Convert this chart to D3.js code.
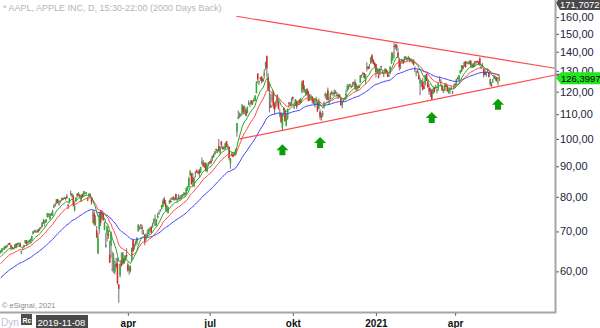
<!DOCTYPE html>
<html>
<head>
<meta charset="utf-8">
<script src="https://cdn.jsdelivr.net/npm/d3@7"></script>
<style>
  html, body { margin: 0; padding: 0; background: #fff; }
  svg { display: block; }
  text { font-family: "Liberation Sans", Arial, sans-serif; }
</style>
</head>
<body>
<svg id="chart" width="600" height="328"></svg>
<script>
// ---------------------------------------------------------------------------
// AAPL daily candles (split-adjusted), 2019-11-08 .. 2021-05-20
// ---------------------------------------------------------------------------
const title = "* AAPL, APPLE INC, D, 15:30-22:00 (2000 Days Back)";
const firstDateLabel = "2019-11-08";

// closes before the first drawn bar (Sep 3 .. Nov 7 2019), used to prime the averages
const warmupCloses = [
  51.43, 52.30, 53.32, 53.32, 53.54, 54.18, 55.90, 55.77, 54.69, 54.98, 55.18, 55.69, 55.24, 54.43, 54.68, 54.42, 55.26, 54.97, 54.71, 55.99,
  56.15, 54.74, 55.21, 56.75, 56.77, 56.10, 56.76, 57.52, 59.05, 58.97, 58.83, 58.59, 58.82, 59.10, 60.13, 59.99, 60.80, 60.90, 61.65, 62.26, 60.82, 60.82, 62.19,
  63.96, 64.38, 64.28, 64.31, 64.86
];

const months = ["2019-11","2019-12","2020-01","2020-02","2020-03","2020-04","2020-05","2020-06","2020-07","2020-08",
                "2020-09","2020-10","2020-11","2020-12","2021-01","2021-02","2021-03","2021-04","2021-05"];

const opens = [
  [64.67,64.58,65.39,65.28,65.94,65.92,66.45,66.97,66.38,65.92,65.65,65.68,66.74,66.39,66.67],
  [66.82,64.58,65.27,65.95,66.87,67.50,67.15,67.20,66.95,67.86,69.25,69.89,69.95,69.88,70.56,70.13,71.17,71.21,72.78,72.36,72.48],
  [74.06,74.29,73.45,74.96,74.29,76.81,77.65,77.91,79.18,77.96,78.40,79.07,79.30,79.64,79.48,80.06,77.51,78.15,81.11,80.14,80.23],
  [76.07,78.83,80.88,80.64,80.59,78.54,80.90,80.37,81.05,81.18,78.84,80.00,80.66,79.65,74.32,75.24,71.63,70.28,64.32],
  [70.57,75.92,74.11,74.95,70.50,65.94,69.29,69.35,63.99,66.22,60.49,61.88,59.94,61.85,61.79,57.02,59.09,62.69,61.63,63.19,62.69,63.90],
  [61.63,60.09,60.70,62.72,67.70,65.68,67.18,67.08,70.00,70.60,71.85,71.17,69.49,69.07,68.40,68.97,69.30,70.45,71.27,71.18,72.49],
  [71.56,72.29,73.76,75.11,75.81,76.41,77.03,79.46,78.04,76.13,75.09,78.29,78.76,79.17,79.67,78.94,80.88,79.04,79.19,79.66],
  [79.44,80.19,81.17,81.10,80.84,82.56,83.04,86.97,87.33,86.18,83.31,87.87,88.66,88.00,88.66,87.84,91.00,91.25,90.18,91.10,88.31,90.02],
  [91.28,91.96,92.50,93.85,94.18,96.26,95.34,97.27,94.84,98.99,96.56,96.99,96.42,99.17,96.69,97.00,90.99,93.71,94.37,93.75,94.19,102.88],
  [108.20,109.13,109.38,110.41,113.21,112.60,111.97,110.50,114.43,114.83,116.06,114.35,115.98,115.75,119.26,128.70,124.70,126.18,127.14,126.01,127.58],
  [132.76,137.59,126.91,120.07,113.95,117.26,120.36,114.57,114.72,118.33,115.23,109.72,110.40,104.54,112.68,111.62,105.17,108.43,115.01,114.55,113.79],
  [117.64,112.89,113.91,115.70,114.62,116.25,115.28,120.06,125.27,121.00,118.72,121.28,119.96,116.20,116.67,117.45,116.39,114.01,115.49,115.05,112.37,111.06],
  [109.11,109.66,114.14,117.95,118.32,120.50,115.55,117.19,119.62,119.44,118.92,119.55,118.61,117.59,118.64,117.18,113.91,115.55,116.57,116.97],
  [121.01,122.02,123.52,122.60,122.31,124.37,124.53,120.50,122.43,122.60,124.34,127.41,128.90,128.96,125.02,131.61,132.16,131.32,133.99,138.05,135.58,134.08],
  [133.52,128.89,127.72,128.36,132.43,129.19,128.50,128.76,130.80,128.78,127.78,128.66,133.80,136.28,143.07,143.60,143.43,139.52,135.83],
  [133.75,135.73,135.76,136.30,137.35,136.03,136.62,136.48,135.90,134.35,135.49,131.25,129.20,130.24,128.01,123.76,124.94,124.68,122.59],
  [123.75,128.41,124.81,121.75,120.98,120.93,119.03,121.69,122.54,120.40,121.41,125.70,124.05,122.88,119.90,120.33,123.33,122.82,119.54,120.35,121.65,120.11,121.65],
  [123.66,123.87,126.50,125.83,128.95,129.80,132.52,132.44,134.94,133.82,134.30,133.51,135.02,132.36,133.04,132.16,134.83,135.01,134.31,136.47,131.78],
  [132.04,131.19,129.20,127.89,130.85,129.41,123.50,123.40,124.58,126.25,126.82,126.56,124.28,125.00]
];

const highs = [
  [65.11,65.62,65.70,66.19,66.22,66.44,66.86,67.00,66.52,66.00,65.80,66.61,66.79,67.00,67.06],
  [67.06,64.88,65.83,66.47,67.75,67.70,67.52,67.78,68.14,68.83,70.20,70.44,70.48,70.29,70.66,71.06,71.22,72.50,73.49,73.17,73.42],
  [75.15,75.14,74.99,75.22,76.11,77.61,78.17,79.27,79.39,78.88,78.93,79.68,79.75,80.00,79.89,80.83,77.94,79.60,81.96,81.02,80.67],
  [78.37,79.91,81.19,81.31,80.85,80.39,80.97,81.81,81.55,81.50,79.94,81.14,81.16,79.94,76.04,75.63,74.47,71.50,69.60],
  [75.36,76.00,75.85,74.89,72.71,69.52,71.61,70.31,67.50,69.98,64.77,64.40,62.50,63.21,63.21,57.13,61.92,64.56,64.67,63.97,63.88,65.62],
  [62.18,61.29,61.43,65.78,67.93,66.84,67.52,68.43,72.06,71.58,72.05,71.74,70.42,69.31,69.48,70.44,70.75,71.14,71.46,72.42,73.63],
  [74.75,73.42,75.25,75.81,76.29,77.59,79.26,79.92,78.99,77.45,76.97,79.13,79.63,79.88,80.22,79.81,81.06,79.68,80.86,80.29],
  [80.59,80.86,81.31,81.41,82.94,83.40,86.40,88.69,87.76,87.76,86.42,88.30,88.85,88.30,89.14,89.87,93.10,92.20,91.33,91.33,90.54,91.50],
  [91.84,92.62,93.94,94.66,95.38,96.32,95.98,99.96,97.26,99.25,97.41,97.15,98.50,99.25,97.98,97.08,92.97,94.91,94.55,95.23,96.30,106.42],
  [111.64,110.79,110.39,114.41,113.68,113.78,112.48,113.28,116.04,115.00,116.09,116.00,117.16,118.39,124.87,128.79,125.18,126.99,127.49,126.44,131.00],
  [134.80,137.98,128.84,123.70,118.99,119.14,120.50,115.23,115.93,118.83,116.00,112.20,110.88,110.19,112.86,112.11,110.25,112.44,115.32,115.31,117.26],
  [117.72,115.37,116.65,116.12,115.55,116.40,117.00,125.18,125.39,123.03,121.20,121.55,120.42,118.98,118.71,118.04,116.55,116.55,117.70,115.43,116.93,111.99],
  [110.68,111.49,115.59,119.62,119.20,121.99,117.59,119.63,120.53,119.67,120.99,120.67,119.82,119.06,118.77,117.62,115.85,116.75,117.49,120.97],
  [123.47,123.37,123.78,122.86,124.57,124.98,125.95,123.87,122.76,123.35,127.90,128.37,129.58,129.10,128.31,134.41,132.43,133.46,137.34,138.79,135.99,134.74],
  [133.61,131.74,131.05,131.63,132.63,130.17,129.69,131.45,131.00,130.22,128.71,132.49,139.67,139.85,145.09,144.30,144.30,141.99,136.74],
  [135.38,136.31,135.77,137.40,137.42,136.96,137.88,136.99,136.39,135.53,136.01,132.22,130.00,130.71,129.72,126.71,125.56,126.46,124.85],
  [127.93,128.72,125.71,123.60,121.94,121.00,122.06,122.17,123.21,121.17,124.00,127.22,125.86,123.18,121.43,123.87,124.24,122.90,121.66,121.48,122.58,120.40,123.52],
  [124.18,126.16,127.13,127.92,130.39,133.04,132.85,134.66,135.00,135.00,134.67,135.47,135.53,133.75,134.15,135.12,135.06,135.41,135.02,137.07,133.56],
  [134.07,131.49,130.45,129.75,131.26,129.54,126.27,124.64,126.15,127.89,126.93,126.99,124.92,127.72]
];

const lows = [
  [64.21,64.57,65.23,65.27,65.52,65.83,66.35,66.35,65.10,65.29,65.29,65.63,65.63,66.33,66.47],
  [65.86,64.07,65.23,65.80,66.82,66.23,66.84,67.13,66.83,67.47,69.25,69.70,69.78,69.74,69.64,70.09,70.73,71.18,72.03,71.31,72.38],
  [73.80,74.13,73.19,74.37,74.29,76.55,77.06,77.79,78.04,77.39,78.02,78.75,79.00,79.33,78.91,79.38,76.22,78.05,80.35,79.69,77.07],
  [75.56,78.41,79.74,80.07,79.65,78.46,79.69,80.37,80.84,80.71,78.65,80.00,79.55,77.63,72.31,71.53,71.63,68.24,64.09],
  [69.43,71.45,73.28,72.85,70.31,65.75,67.34,67.96,62.00,63.24,60.00,59.60,59.28,60.65,57.00,53.15,58.58,61.08,61.59,61.76,62.35,63.00],
  [59.78,59.22,59.74,62.35,64.75,65.31,66.18,66.46,69.99,70.54,70.59,69.22,69.21,66.36,67.70,68.72,69.19,69.99,69.55,70.97,72.09],
  [71.46,71.58,73.61,74.72,75.49,76.07,76.81,77.73,75.80,75.38,75.05,77.81,78.25,79.13,78.97,78.84,79.13,78.27,79.12,79.12],
  [79.30,79.73,80.19,80.19,80.81,81.83,83.00,86.52,83.87,83.14,83.14,86.18,87.77,87.27,86.29,87.79,90.57,89.63,89.39,88.26,87.82,90.00],
  [90.98,90.91,91.80,93.06,94.09,94.67,94.71,95.26,94.11,96.49,95.91,95.84,96.06,96.74,96.60,92.01,89.14,93.48,93.25,93.71,93.77,100.83],
  [107.89,108.39,108.90,109.80,110.00,110.00,109.11,110.30,113.93,113.05,113.96,114.01,115.61,115.73,119.25,123.94,123.05,125.08,123.83,124.58,126.00],
  [130.53,127.00,120.50,110.89,112.68,115.26,112.50,110.00,112.80,113.61,112.04,108.71,106.09,103.10,109.16,106.77,105.00,107.67,112.78,113.57,113.62],
  [115.83,112.22,113.55,112.25,114.13,114.59,114.92,119.28,119.65,119.62,118.15,118.81,115.66,115.63,116.45,114.59,114.28,112.88,114.54,111.10,112.20,107.72],
  [107.32,108.73,112.35,116.87,116.13,116.05,114.13,116.44,118.57,117.87,118.15,118.96,118.00,116.81,117.29,113.75,112.59,115.17,116.22,116.81],
  [120.01,120.89,122.21,121.54,122.25,123.09,121.00,120.15,120.55,121.54,124.13,126.56,128.04,126.12,123.45,129.65,130.78,131.10,133.51,134.34,133.40,131.72],
  [126.76,128.43,126.38,127.86,130.23,128.50,126.86,128.49,128.76,127.00,126.94,128.55,133.59,135.02,136.54,141.37,140.41,136.70,130.21],
  [130.93,134.61,133.61,134.59,135.86,134.92,135.85,134.40,134.92,133.69,132.79,129.47,127.41,128.80,125.60,118.39,122.23,120.54,121.20],
  [122.79,125.01,121.84,118.62,117.57,116.21,118.79,119.45,121.26,119.16,120.42,124.72,122.34,120.32,119.68,120.26,122.14,120.07,119.00,118.92,120.73,118.86,121.15],
  [122.49,123.07,125.65,125.14,128.52,129.47,130.63,131.93,131.66,133.64,133.28,133.34,131.81,131.30,131.41,132.16,133.56,134.11,133.08,132.45,131.07],
  [131.83,126.70,127.97,127.13,129.48,126.81,122.77,122.25,124.26,125.85,125.17,124.78,122.86,125.00]
];

const closes = [
  [65.04,65.55,65.49,66.12,65.66,66.44,66.78,66.57,65.80,65.50,65.45,66.59,66.07,66.96,66.81],
  [66.04,64.86,65.44,66.40,67.68,66.73,67.12,67.69,67.87,68.79,69.97,70.10,69.94,70.01,69.86,71.00,71.07,72.48,72.45,72.88,73.41],
  [75.09,74.36,74.95,74.60,75.80,77.41,77.58,79.24,78.17,77.84,78.81,79.68,79.14,79.43,79.81,79.58,77.24,79.42,81.08,80.97,77.38],
  [77.17,79.71,80.36,81.30,80.01,80.39,79.90,81.80,81.22,81.24,79.75,80.91,80.08,78.26,74.55,72.02,73.16,68.38,68.34],
  [74.70,72.33,75.69,73.23,72.26,66.54,71.33,68.86,62.06,69.49,60.55,63.22,61.67,61.20,57.31,56.09,61.72,61.38,64.61,61.94,63.70,63.57],
  [60.23,61.23,60.35,65.62,64.86,66.52,67.00,68.31,71.76,71.11,71.67,70.70,69.23,67.09,69.03,68.76,70.74,70.79,69.64,71.93,73.45],
  [72.27,73.29,74.39,75.16,75.94,77.53,78.75,77.85,76.91,77.39,76.93,78.74,78.29,79.81,79.21,79.72,79.18,79.53,79.56,79.49],
  [80.46,80.83,81.28,80.58,82.88,83.37,86.00,88.21,83.98,84.70,85.75,88.02,87.90,87.93,87.43,89.72,91.63,90.02,91.21,88.41,90.45,91.20],
  [91.03,91.03,93.46,93.17,95.34,95.75,95.92,95.48,97.06,97.72,96.52,96.33,98.36,97.00,97.27,92.85,92.62,94.81,93.25,95.04,96.19,106.26],
  [108.94,109.67,110.06,113.90,111.11,112.73,109.38,113.01,115.01,114.91,114.61,115.56,115.71,118.28,124.37,125.86,124.83,126.52,125.01,124.81,129.04],
  [134.18,131.40,120.88,120.96,112.82,117.32,113.49,112.00,115.36,115.54,112.13,110.34,106.84,110.08,111.81,107.12,108.22,112.28,114.96,114.09,115.81],
  [116.79,113.02,116.50,113.16,115.08,114.97,116.97,124.40,121.10,121.19,120.71,119.02,115.98,117.51,116.87,115.75,115.04,115.05,116.60,111.20,115.32,108.86],
  [108.77,110.44,114.95,119.03,118.69,116.32,115.97,119.49,119.21,119.26,120.30,119.39,118.03,118.64,117.34,113.85,115.17,116.03,116.59,119.05],
  [122.72,123.08,122.94,122.25,123.75,124.38,121.78,123.24,122.41,121.78,127.88,127.81,128.70,126.66,128.23,131.88,130.96,131.97,136.69,134.87,133.72,132.69],
  [129.41,131.01,126.60,130.92,132.05,128.98,128.80,130.89,128.91,127.14,127.83,132.03,136.87,139.07,142.92,143.16,142.06,137.09,131.96],
  [134.14,134.99,133.94,137.39,136.76,136.91,136.01,135.39,135.13,135.37,133.19,130.84,129.71,129.87,126.00,125.86,125.35,120.99,121.26],
  [127.79,125.12,122.06,120.13,121.42,116.36,121.09,119.98,121.96,121.03,123.99,125.57,124.76,120.53,119.99,123.39,122.54,120.09,120.59,121.21,121.39,119.90,122.15],
  [123.00,125.90,126.21,127.90,130.36,133.00,131.24,134.43,132.03,134.50,134.16,134.84,133.11,133.50,131.94,134.32,134.72,134.39,133.58,133.48,131.46],
  [132.54,127.85,128.10,129.74,130.21,126.85,125.91,122.77,124.97,127.45,126.27,124.85,124.69,126.3997]
];

// month -> x-axis label (quarter starts)
const tickLabels = { "2020-04": "apr", "2020-07": "jul", "2020-10": "okt", "2021-01": "2021", "2021-04": "apr" };

// price axis
const priceRange = [51.3, 170.9];
const yTicks = [60, 70, 80, 90, 100, 110, 120, 130, 140, 150, 160];
const topPrice = 171.7072;

// moving averages (exponential), in drawing order
const maPeriods = [50, 20, 10];
const maColors  = ["#3f3fff", "#ff4545", "#25a325"];

// trend lines: [bar index, price] pairs
const upperTrend = [[181.5, 160.5], [305, 145.1]];
const lowerTrend = [[184, 100.0], [332, 116.21]];

// buy markers: bar index and price at the arrow tip
const arrowBars   = [217, 246, 332, 383];
const arrowPrices = [98.0, 100.8, 110.9, 116.8];

// ---------------------------------------------------------------------------
const W = 600, H = 328;
const plotRight = 555, plotBottom = 312;
const svg = d3.select("#chart");

months.forEach((m, k) => {
  const n = closes[k].length;
  if (opens[k].length !== n || highs[k].length !== n || lows[k].length !== n)
    throw new Error("bar count mismatch in " + m);
});

const O = opens.flat(), Hi = highs.flat(), Lo = lows.flat(), C = closes.flat();
const bars = C.map((c, i) => ({ i, o: O[i], h: Hi[i], l: Lo[i], c }));

let cursor = 0;
const monthStarts = months.map((m, k) => { const s = cursor; cursor += closes[k].length; return { m, s }; });

const x = d3.scaleLinear().domain([-0.46, 426.9]).range([0, plotRight]);
const y = d3.scaleLog().domain(priceRange).range([plotBottom, 0]);

function ema(values, n) {
  const a = 2 / (n + 1);
  let e = values[0];
  return values.map((v, i) => (i === 0 ? e : (e = e + a * (v - e))));
}
const allCloses = warmupCloses.concat(C);
const maSeries = maPeriods.map((p, k) => ({
  color: maColors[k],
  values: ema(allCloses, p).slice(warmupCloses.length)
}));

svg.append("rect").attr("width", W).attr("height", H).attr("fill", "#fff");

svg.append("defs").append("clipPath").attr("id", "plot")
  .append("rect").attr("x", 0).attr("y", 0).attr("width", plotRight).attr("height", plotBottom);

// title
svg.append("text").attr("x", 3).attr("y", 11)
  .attr("font-size", 9).attr("fill", "#b5b5b5").text(title);

svg.append("text").attr("x", 2).attr("y", 308)
  .attr("font-size", 7.5).attr("fill", "#8a8a8a").text("\u00a9 eSignal, 2021");

const plot = svg.append("g").attr("clip-path", "url(#plot)");

// candles
const candle = plot.append("g");
candle.selectAll("line.wick").data(bars).join("line")
  .attr("class", "wick")
  .attr("x1", d => x(d.i)).attr("x2", d => x(d.i))
  .attr("y1", d => y(Math.max(d.h, d.o, d.c))).attr("y2", d => y(Math.min(d.l, d.o, d.c)))
  .attr("stroke", "#7d7d7d").attr("stroke-width", 1.1);
candle.selectAll("rect.body").data(bars).join("rect")
  .attr("class", "body")
  .attr("x", d => x(d.i) - 0.75).attr("width", 1.5)
  .attr("y", d => y(Math.max(d.o, d.c)))
  .attr("height", d => Math.max(1, y(Math.min(d.o, d.c)) - y(Math.max(d.o, d.c))))
  .attr("fill", d => (d.c >= d.o ? "#2fae2f" : "#e32222"));

// moving averages
const maLine = d3.line().x((v, i) => x(i)).y(v => y(v));
plot.selectAll("path.ma").data(maSeries).join("path")
  .attr("class", "ma")
  .attr("d", s => maLine(s.values))
  .attr("fill", "none").attr("stroke", s => s.color).attr("stroke-width", 1);

// trend lines, extended to the price axis
function extend(pts) {
  const [[i0, p0], [i1, p1]] = pts;
  const iEnd = x.invert(plotRight);
  const k = (Math.log(p1) - Math.log(p0)) / (i1 - i0);
  return [[i0, p0], [iEnd, Math.exp(Math.log(p0) + k * (iEnd - i0))]];
}
const tl = d3.line().x(d => x(d[0])).y(d => y(d[1]));
[upperTrend, lowerTrend].forEach(t => {
  svg.append("path").attr("d", tl(extend(t)))
    .attr("fill", "none").attr("stroke", "#ff4a4a").attr("stroke-width", 1.2);
});

// arrows
const arrowShape = "M0,0 L6,6 L3,6 L3,11 L-3,11 L-3,6 L-6,6 Z";
svg.selectAll("path.arrow").data(arrowBars).join("path")
  .attr("class", "arrow")
  .attr("transform", (b, k) => `translate(${x(b)},${y(arrowPrices[k])})`)
  .attr("d", arrowShape).attr("fill", "#0a9e0a");

// right price axis
const yAxis = d3.axisRight(y).tickValues(yTicks).tickSize(4).tickPadding(1)
  .tickFormat(d => d3.format(".2f")(d).replace(".", ","));
const ya = svg.append("g").attr("transform", `translate(${plotRight},0)`).call(yAxis);
ya.select(".domain").remove();
ya.selectAll(".tick line").attr("stroke", "#555");
ya.selectAll(".tick text").attr("font-size", 11).attr("fill", "#22223c")
  .attr("font-family", "Liberation Sans, Arial, sans-serif");

// markers for the last average values
[maSeries[0], maSeries[1]].forEach((s, k) => {
  const v = s.values[s.values.length - 1];
  svg.append("line").attr("x1", plotRight + 1).attr("x2", W)
    .attr("y1", y(v)).attr("y2", y(v))
    .attr("stroke", s.color).attr("stroke-width", 2)
    .attr("stroke-dasharray", k === 1 ? "4,2" : null);
});

// last price tag
const last = C[C.length - 1];
const ly = y(last);
svg.append("path")
  .attr("d", `M${plotRight + 1},${ly} L${plotRight + 6},${ly - 6} L${W},${ly - 6} L${W},${ly + 6} L${plotRight + 6},${ly + 6} Z`)
  .attr("fill", "#22e622");
svg.append("text").attr("x", plotRight + 6).attr("y", ly + 3.5)
  .attr("font-size", 9.5).attr("fill", "#000")
  .text(d3.format(".4f")(last).replace(".", ","));

// top-of-scale tag
svg.append("path")
  .attr("d", `M${plotRight + 1},3 L${plotRight + 5},-3 L${W},-3 L${W},10 L${plotRight + 5},10 Z`)
  .attr("fill", "#4a4a4a");
svg.append("text").attr("x", plotRight + 5).attr("y", 8)
  .attr("font-size", 9.5).attr("fill", "#fff")
  .text(d3.format(".4f")(topPrice).replace(".", ","));

// frame lines
svg.append("line").attr("x1", plotRight + 0.5).attr("x2", plotRight + 0.5).attr("y1", 0).attr("y2", plotBottom + 1)
  .attr("stroke", "#a5a5a5").attr("stroke-width", 2);
svg.append("line").attr("x1", 0).attr("x2", plotRight + 1).attr("y1", plotBottom + 0.5).attr("y2", plotBottom + 0.5)
  .attr("stroke", "#a5a5a5").attr("stroke-width", 2);

// bottom time axis
const tickIdx = monthStarts.filter(d => tickLabels[d.m]);
const xAxis = d3.axisBottom(x).tickValues(tickIdx.map(d => d.s)).tickSize(3).tickPadding(4)
  .tickFormat(i => tickLabels[tickIdx.find(d => d.s === i).m]);
const xa = svg.append("g").attr("transform", `translate(0,${plotBottom + 1})`).call(xAxis);
xa.select(".domain").remove();
xa.selectAll(".tick line").attr("stroke", "#666");
xa.selectAll(".tick text").attr("font-size", 10).attr("font-weight", "bold").attr("fill", "#111")
  .attr("font-family", "Liberation Sans, Arial, sans-serif");

// bottom-left status strip
svg.append("text").attr("x", 1).attr("y", 326).attr("font-size", 10).attr("fill", "#bcc4d4").text("Dyn");
svg.append("rect").attr("x", 21).attr("y", 314).attr("width", 11).attr("height", 11).attr("fill", "#4d4d4d");
svg.append("text").attr("x", 22.5).attr("y", 323).attr("font-size", 7).attr("font-weight", "bold").attr("fill", "#fff").text("Rc");
svg.append("rect").attr("x", 36).attr("y", 315).attr("width", 52).attr("height", 13).attr("fill", "#4a4a4a");
svg.append("text").attr("x", 37.5).attr("y", 325.5).attr("font-size", 9.5).attr("fill", "#fff").text(firstDateLabel);
</script>
</body>
</html>
